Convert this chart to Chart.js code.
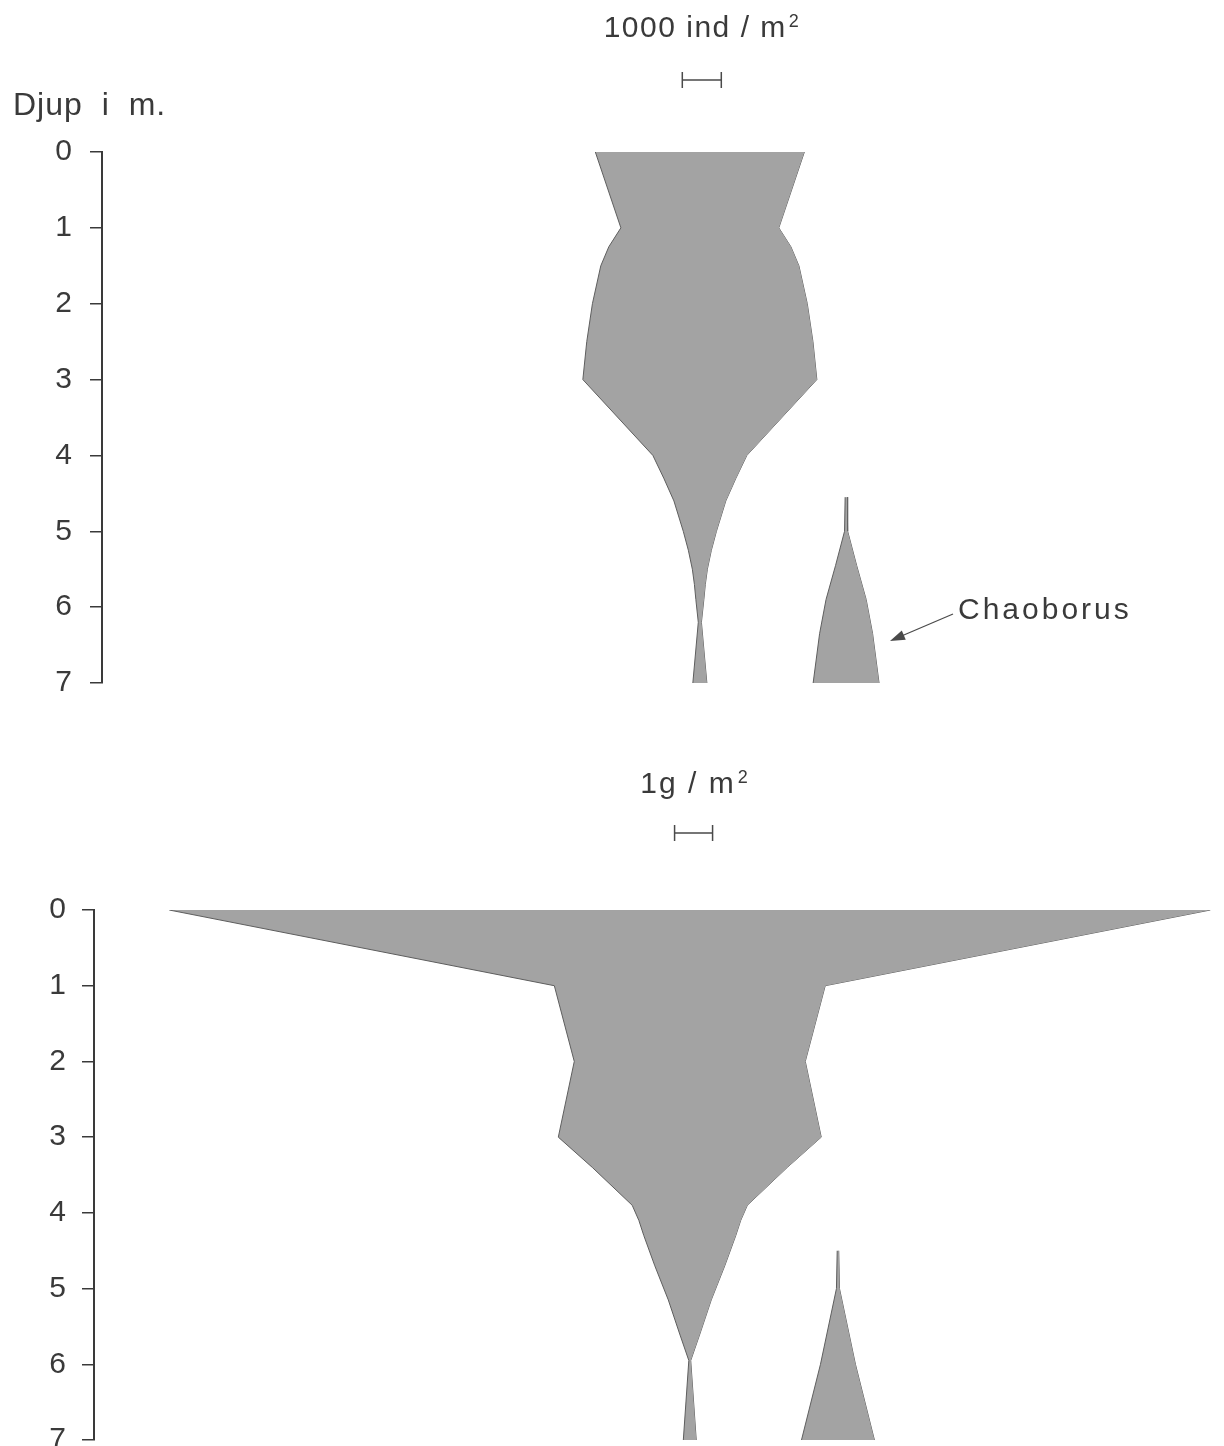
<!DOCTYPE html>
<html>
<head>
<meta charset="utf-8">
<script src="https://cdn.jsdelivr.net/npm/chart.js@4.4.1/dist/chart.umd.min.js"></script>
<style>
  body { margin: 0; background: #fff; width: 1224px; height: 1446px; position: relative; overflow: hidden;
         font-family: 'Liberation Sans', Arial, sans-serif; color: #3a3a3a; }
  canvas { position: absolute; left: 0; }
  #chartTop { top: 0; }
  #chartBottom { top: 720px; }
  .lbl { position: absolute; font-size: 30px; line-height: 30px; white-space: pre; }
  .mid { transform: translateX(-50%); }
  sup { font-size: 18px; vertical-align: baseline; position: relative; top: -10px; margin-left: 2px; }
</style>
</head>
<body>
<canvas id="chartTop" width="1224" height="720"></canvas>
<canvas id="chartBottom" width="1224" height="726"></canvas>

<div class="lbl" style="left:13px;top:88px;font-size:32px;line-height:32px;letter-spacing:1px;word-spacing:9px">Djup i m.</div>
<div class="lbl mid" style="left:702px;top:12px;letter-spacing:1.5px">1000 ind / m<sup>2</sup></div>
<div class="lbl mid" style="left:695px;top:768px;letter-spacing:2px">1g / m<sup>2</sup></div>
<div class="lbl" style="left:958px;top:594px;letter-spacing:3px">Chaoborus</div>

<script>
// ---- data (depth in m, full kite width) ----
var depthTicks = [0, 1, 2, 3, 4, 5, 6, 7];

// top: abundance, ind / m2
var depthAllTop = [0, 1, 1.25, 1.5, 2, 2.5, 3, 4, 4.3, 4.6, 5, 5.25, 5.5, 5.7, 5.9, 6.2, 7];
var indAll      = [5360, 4050, 4670, 5080, 5510, 5800, 6000, 2410, 1850, 1330, 850, 590, 385, 280, 205, 80, 360];
var depthChaoTop = [4.55, 5, 5.45, 5.9, 6.35, 7];
var indChao      = [50, 80, 540, 1030, 1360, 1690];

// bottom: biomass, g / m2
var depthAllBottom = [0, 1, 2, 3, 3.4, 3.9, 4.1, 4.3, 4.7, 5.15, 5.6, 5.95, 7];
var gAll           = [27.4, 7.13, 6.08, 6.92, 5.13, 3.03, 2.68, 2.42, 1.84, 1.13, 0.53, 0.05, 0.34];
var depthChaoBottom = [4.5, 5, 6, 7];
var gChao           = [0.04, 0.08, 0.92, 1.92];

// ---- style ----
var FILL = '#a3a3a3';
var EDGE = '#5e5e5e';
var AXIS = '#3a3a3a';
var TEXT = '#3a3a3a';
var FONT = "'Liberation Sans', Arial, sans-serif";

// kite = left edge filled to right edge
function kite(depths, widths, centre) {
    var left = depths.map(function(d, i) { return {x: centre - widths[i] / 2, y: d}; });
    var right = depths.map(function(d, i) { return {x: centre + widths[i] / 2, y: d}; });
    return [
        {data: left, fill: '+1', backgroundColor: FILL, borderColor: EDGE, borderWidth: 1, pointRadius: 0},
        {data: right, fill: false, backgroundColor: FILL, borderColor: EDGE, borderWidth: 1, pointRadius: 0}
    ];
}

// ====================================
// Scale bar above each diagram (+ arrow)
// ====================================
function scaleBar(unit, centre, y, arrow) {
    return {
        id: 'scaleBar',
        afterDraw: function(chart) {
            var c = chart.ctx;
            var xs = chart.scales.x;
            var a = xs.getPixelForValue(centre - unit / 2);
            var b = xs.getPixelForValue(centre + unit / 2);
            c.save();
            c.strokeStyle = '#4a4a4a';
            c.lineWidth = 1.5;
            c.beginPath();
            c.moveTo(a, y); c.lineTo(b, y);
            c.moveTo(a, y - 8); c.lineTo(a, y + 8);
            c.moveTo(b, y - 8); c.lineTo(b, y + 8);
            c.stroke();
            if (arrow) {
                var x0 = arrow[0], y0 = arrow[1], x1 = arrow[2], y1 = arrow[3];
                var ang = Math.atan2(y1 - y0, x1 - x0);
                c.lineWidth = 1.2;
                c.beginPath();
                c.moveTo(x0, y0); c.lineTo(x1 - 10 * Math.cos(ang), y1 - 10 * Math.sin(ang));
                c.stroke();
                c.fillStyle = '#4a4a4a';
                c.beginPath();
                c.moveTo(x1, y1);
                c.lineTo(x1 - 15 * Math.cos(ang) + 5 * Math.sin(ang), y1 - 15 * Math.sin(ang) - 5 * Math.cos(ang));
                c.lineTo(x1 - 15 * Math.cos(ang) - 5 * Math.sin(ang), y1 - 15 * Math.sin(ang) + 5 * Math.cos(ang));
                c.closePath();
                c.fill();
            }
            c.restore();
        }
    };
}

function makeChart(id, datasets, xMax, axisW, padTop, padBottom, labelPad, plugin) {
    return new Chart(document.getElementById(id), {
        type: 'line',
        data: {datasets: datasets},
        options: {
            indexAxis: 'y',
            responsive: false,
            animation: false,
            devicePixelRatio: 1,
            layout: {padding: {top: padTop, bottom: padBottom, left: 0, right: 0}},
            plugins: {legend: {display: false}, tooltip: {enabled: false}},
            elements: {line: {tension: 0}},
            scales: {
                x: {type: 'linear', min: 0, max: xMax, display: false},
                y: {
                    type: 'linear', min: 0, max: 7, reverse: true, position: 'left',
                    afterBuildTicks: function(s) { s.ticks = depthTicks.map(function(v) { return {value: v}; }); },
                    afterFit: function(s) { s.width = axisW; s.paddingTop = 0; s.paddingBottom = 0; },
                    grid: {drawOnChartArea: false, drawTicks: true, tickLength: 12, color: AXIS, lineWidth: 1.5},
                    border: {display: true, color: AXIS, width: 2},
                    ticks: {padding: labelPad, color: TEXT, font: {family: FONT, size: 30}}
                }
            }
        },
        plugins: [plugin]
    });
}

// top: 1000 ind/m2 = 39 px, axis at x=102
var topMax = 28770, topCentreAll = 15330, topCentreChao = 19080;
makeChart('chartTop',
    kite(depthAllTop, indAll, topCentreAll).concat(kite(depthChaoTop, indChao, topCentreChao)),
    topMax, 102, 152, 37, 18,
    scaleBar(1000, topCentreAll + 50, 80, [953, 614, 890, 641]));

// bottom: 1 g/m2 = 38 px, axis at x=94
var botMax = 29.74, botCentreAll = 15.68, botCentreChao = 19.58;
makeChart('chartBottom',
    kite(depthAllBottom, gAll, botCentreAll).concat(kite(depthChaoBottom, gChao, botCentreChao)),
    botMax, 94, 190, 6, 16,
    scaleBar(1, botCentreAll + 0.1, 113, null));
</script>
</body>
</html>
